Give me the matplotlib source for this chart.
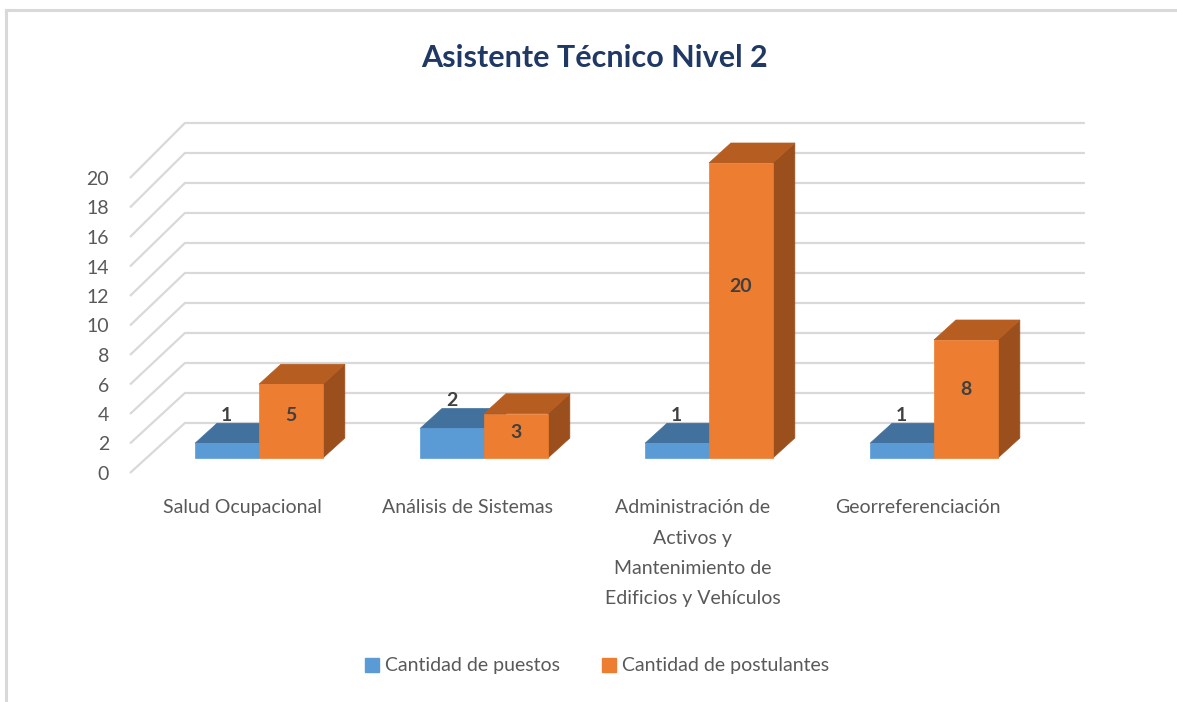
import matplotlib.pyplot as plt
from matplotlib.patches import Polygon, Patch
from matplotlib.lines import Line2D

plt.rcParams['font.family'] = ['Lato', 'DejaVu Sans']

# data
categorias = ['Salud Ocupacional', 'Análisis de Sistemas',
              'Administración de\nActivos y\nMantenimiento de\nEdificios y Vehículos',
              'Georreferenciación']
puestos = [1, 2, 1, 1]
postulantes = [5, 3, 20, 8]
series = ['Cantidad de puestos', 'Cantidad de postulantes']
y_ticks = list(range(0, 21, 2))

# colours: front, top, side
azul = ('#5B9BD5', '#41719C', '#3A6690')
naranja = ('#ED7D31', '#B65D21', '#9B4F1C')
gris_grid = '#D9D9D9'
gris_txt = '#595959'

# fake 3D (oblique projection)
DX = 0.244   # depth shift in category units
DY = 3.39    # depth shift in value units
d0, d1 = 0.3, 0.7
w = 0.284


def P(x, v, d):
    return (x + d * DX, v + d * DY)


fig = plt.figure(figsize=(11.77, 7.02), dpi=100)
ax = fig.add_axes([130 / 1177, 229 / 702, 900 / 1177, 295 / 702])
ax.set_xlim(0, 4)
ax.set_ylim(0, 20)
for s in ax.spines.values():
    s.set_visible(False)

# grid: side wall diagonal + back wall
for v in y_ticks:
    pts = [P(0, v, 0), P(0, v * 1.017, 1), P(4, v * 1.017, 1)]
    ax.plot([p[0] for p in pts], [p[1] for p in pts], color=gris_grid, lw=1.6,
            clip_on=False, zorder=1, solid_capstyle='butt')


def barra(x0, x1, v, cols):
    front = [P(x0, 0, d0), P(x1, 0, d0), P(x1, v, d0), P(x0, v, d0)]
    top = [P(x0, v, d0), P(x1, v, d0), P(x1, v, d1), P(x0, v, d1)]
    side = [P(x1, 0, d0), P(x1, v, d0), P(x1, v, d1), P(x1, 0, d1)]
    for poly, c in zip([side, top, front], [cols[2], cols[1], cols[0]]):
        ax.add_patch(Polygon(poly, closed=True, facecolor=c, edgecolor=c,
                             lw=0.5, clip_on=False, zorder=3))


for i in range(len(categorias)):
    c = i + 0.5
    barra(c - w, c, puestos[i], azul)
    barra(c, c + w, postulantes[i], naranja)
    # labels
    bx, by = P(c - w / 2, puestos[i], d1)
    ax.text(bx - 0.1, by - 0.05, str(puestos[i]), ha='center', va='bottom',
            fontsize=14, fontweight='bold', color='#404040', zorder=5)
    ox, oy = P(c + w / 2, postulantes[i] * 0.58, d0)
    ax.text(ox, oy, str(postulantes[i]), ha='center', va='center',
            fontsize=14, fontweight='bold', color='#404040', zorder=5)

ax.set_yticks(y_ticks)
ax.set_yticklabels([str(t) for t in y_ticks], fontsize=14, color=gris_txt)
ax.set_xticks([i + 0.5 for i in range(len(categorias))])
ax.set_xticklabels(categorias, fontsize=14, color=gris_txt, linespacing=1.95, va='top')
ax.tick_params(axis='both', length=0)
ax.tick_params(axis='y', pad=15)
ax.tick_params(axis='x', pad=19)

fig.text(594 / 1177, 1 - 58 / 702, 'Asistente Técnico Nivel 2', ha='center',
         va='center', fontsize=22, fontweight='bold', color='#1F3864')

handles = [Patch(facecolor=azul[0], edgecolor=azul[0]),
           Patch(facecolor=naranja[0], edgecolor=naranja[0])]
fig.legend(handles, series, loc='center', bbox_to_anchor=(597 / 1177, 1 - 666 / 702),
           ncol=2, frameon=False, fontsize=14, handlelength=0.7, handleheight=0.7,
           handletextpad=0.3, columnspacing=2.2, labelcolor=gris_txt)

# chart border (top and left visible)
fig.add_artist(Line2D([6 / 1177, 1], [1 - 9.5 / 702, 1 - 9.5 / 702], color='#D9D9D9', lw=2.2))
fig.add_artist(Line2D([6 / 1177, 6 / 1177], [0, 1 - 9.5 / 702], color='#D9D9D9', lw=2.2))

fig.savefig('out.png', dpi=100)
